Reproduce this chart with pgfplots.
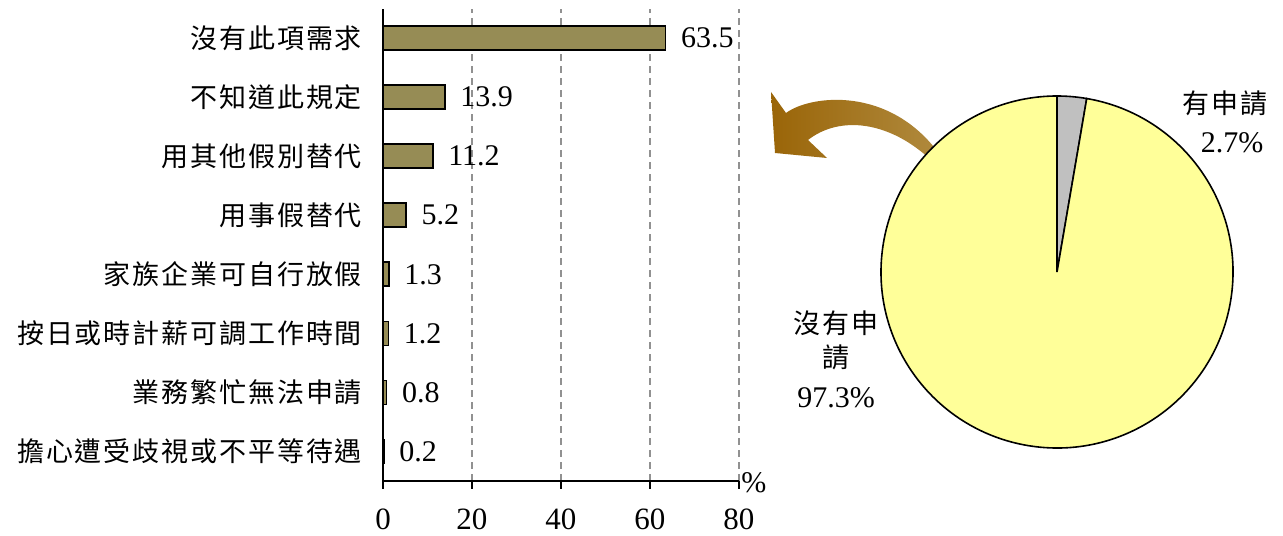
\documentclass[border=0pt]{standalone}
\usepackage{fontspec}
\setmainfont{Liberation Serif}
\newfontfamily\cjk[LetterSpace=7]{Noto Sans CJK TC}
\usepackage{pgfplots}
\pgfplotsset{compat=1.18}

\definecolor{barfill}{HTML}{968C55}
\definecolor{pieyellow}{HTML}{FFFF99}
\definecolor{piegray}{HTML}{C0C0C0}
\definecolor{gridgray}{HTML}{919191}
\definecolor{arrowdark}{HTML}{9A6508}
\definecolor{arrowlight}{HTML}{B08A3E}

% share of respondents who applied / did not apply
\newcommand{\applied}{2.7}
\newcommand{\notapplied}{97.3}

\begin{document}
\begin{tikzpicture}
\useasboundingbox (0,0) rectangle (641.5pt,267.5pt);

% reasons for not applying (%)
\begin{axis}[
  at={(191.5pt,27pt)}, anchor=south west,
  scale only axis, width=178pt, height=236.25pt,
  xbar, bar width=12pt,
  xmin=0, xmax=80, ymin=-0.5, ymax=7.5,
  axis x line*=bottom, axis y line*=left,
  axis line style={line width=1pt, black},
  xtick={0,20,40,60,80},
  xtick style={line width=1pt, black},
  major tick length=4pt,
  tick align=outside,
  ytick={0,...,7},
  ytick style={draw=none},
  minor ytick={-0.5,0.5,...,7.5},
  minor tick length=4pt,
  minor y tick style={line width=1pt, black},
  yticklabels={
    {\cjk 擔心遭受歧視或不平等待遇},
    {\cjk 業務繁忙無法申請},
    {\cjk 按日或時計薪可調工作時間},
    {\cjk 家族企業可自行放假},
    {\cjk 用事假替代},
    {\cjk 用其他假別替代},
    {\cjk 不知道此規定},
    {\cjk 沒有此項需求}},
  yticklabel style={font=\fontsize{13.5pt}{16pt}\selectfont, xshift=-3pt},
  xticklabel style={font=\fontsize{15.5pt}{18pt}\selectfont, yshift=-6.5pt},
  /pgf/number format/assume math mode=true,
  xmajorgrids,
  grid style={gridgray, line width=0.9pt, dash pattern=on 3.5pt off 2.5pt},
  nodes near coords={\pgfmathprintnumber[fixed,fixed zerofill,precision=1,assume math mode=true]{\pgfplotspointmeta}},
  nodes near coords style={font=\fontsize{15pt}{18pt}\selectfont, black, xshift=4pt},
  point meta=x,
  clip=false,
]
\addplot[fill=barfill, draw=black, line width=0.8pt] coordinates {
  (0.2,0) (0.8,1) (1.2,2) (1.3,3) (5.2,4) (11.2,5) (13.9,6) (63.5,7)
};
\node[font=\fontsize{15pt}{18pt}\selectfont, anchor=south west, inner sep=0pt]
  at (axis cs:80,-0.5) [xshift=1pt, yshift=-6pt] {\%};
\end{axis}

% curved arrow pointing from the pie to the bar chart
\shade[left color=arrowdark, right color=arrowlight]
  (385.5pt,221.5pt) -- (393pt,211pt)
  .. controls (405pt,220pt) and (445pt,225pt) .. (470pt,190pt)
  -- (466pt,187pt)
  .. controls (445pt,207pt) and (420pt,210pt) .. (404pt,197.5pt)
  -- (413.5pt,188.5pt) -- (387.5pt,191pt) -- cycle;

% pie of applied / not applied
\begin{axis}[
  at={(440.5pt,43.5pt)}, anchor=south west,
  scale only axis, width=176pt, height=176pt,
  xmin=-1, xmax=1, ymin=-1, ymax=1,
  hide axis, clip=false,
]
\pgfmathsetmacro{\splitangle}{90-3.6*\applied}
\draw[fill=piegray, line width=0.8pt] (axis cs:0,0) -- (axis cs:0,1)
  arc[start angle=90, end angle=\splitangle, radius=88pt] -- cycle;
\draw[fill=pieyellow, line width=0.8pt] (axis cs:0,0) -- ++(\splitangle:88pt)
  arc[start angle=\splitangle, end angle=-270, radius=88pt] -- cycle;
\end{axis}

\node[font=\fontsize{13.5pt}{16pt}\selectfont\cjk] at (612.5pt,216pt) {有申請};
\node[font=\fontsize{15pt}{18pt}\selectfont] at (616pt,196pt) {2.7\%};
\node[font=\fontsize{13.5pt}{16pt}\selectfont\cjk] at (418pt,106pt) {沒有申};
\node[font=\fontsize{13.5pt}{16pt}\selectfont\cjk] at (418pt,89pt) {請};
\node[font=\fontsize{15pt}{18pt}\selectfont] at (418pt,68.5pt) {97.3\%};
\end{tikzpicture}
\end{document}
